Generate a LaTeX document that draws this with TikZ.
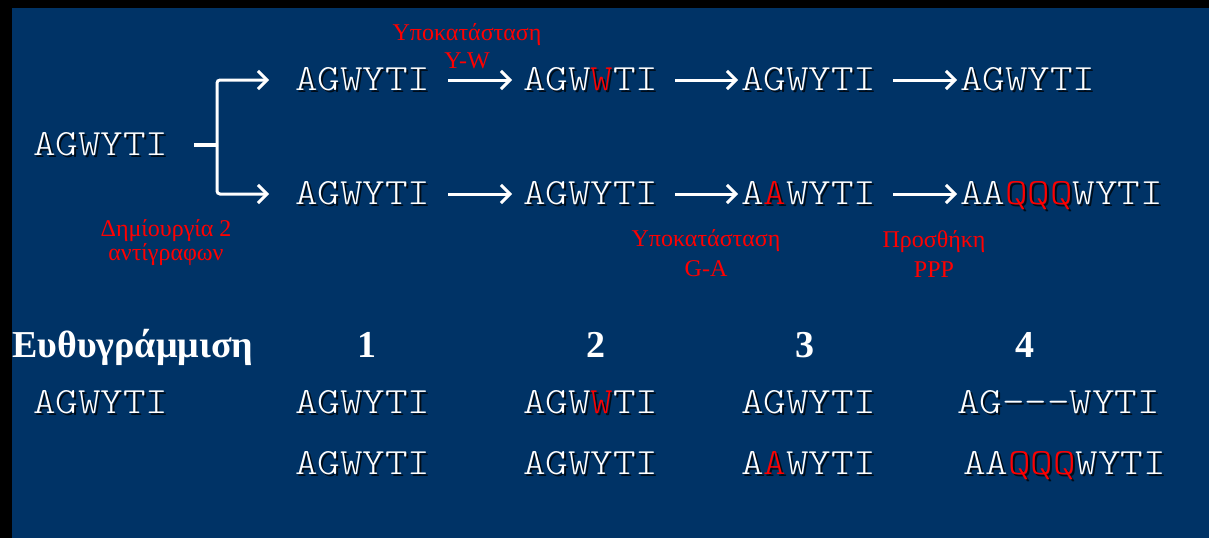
\documentclass[tikz,border=0pt]{standalone}
\usepackage{fontspec}
\setmainfont{Liberation Serif}
\newfontfamily\seqfont[FakeStretch=1.16]{Latin Modern Mono Light}
\usetikzlibrary{arrows.meta,calc}

\definecolor{slide}{RGB}{0,51,102}
\definecolor{mutred}{RGB}{255,0,0}
\colorlet{shadowc}{black}

% a changed residue inside a sequence
\newcommand\mut[1]{\textcolor{mutred}{#1}}
% sequence text with its drop shadow: name, x, baseline y, letters
\newcommand\seqat[4]{%
  \node[seqtext, text=shadowc, opacity=0.75] (#1-sh) at (#2+2,#3+2) {\colorlet{mutred}{shadowc}#4};
  \node[seqtext] (#1) at (#2,#3) {#4};}

\tikzset{
  seqtext/.style={anchor=base west, inner sep=0pt, outer sep=0pt,
    font=\seqfont\fontsize{37}{40}\selectfont, text=white,
    text height=20pt, text depth=0pt},
  note/.style={anchor=base, inner sep=0pt, align=center, text=mutred,
    font=\fontsize{24}{26}\selectfont},
  head/.style={anchor=base, inner sep=0pt, text=white,
    font=\bfseries\fontsize{38}{40}\selectfont},
  arr/.style={draw=white, line width=3pt,
    -{Straight Barb[length=9pt,width=18pt]}},
  wline/.style={draw=white, line width=3.5pt},
}

\begin{document}
\begin{tikzpicture}[x=1pt,y=-1pt]
  % slide background with its dark frame
  \fill[black] (0,0) rectangle (1209,538);
  \fill[slide] (12,8) rectangle (1209,538);
  \useasboundingbox (0,0) rectangle (1209,538);

  % original sequence and the two copies
  \seqat{o}{33}{155}{AGWYTI}
  \seqat{t1}{295}{90}{AGWYTI}
  \seqat{t2}{523}{90}{AGW\mut{W}TI}
  \seqat{t3}{741}{90}{AGWYTI}
  \seqat{t4}{960}{90}{AGWYTI}
  \seqat{b1}{295}{204}{AGWYTI}
  \seqat{b2}{523}{204}{AGWYTI}
  \seqat{b3}{741}{204}{A\mut{A}WYTI}
  \seqat{b4}{960}{204}{AA\mut{QQQ}WYTI}

  % fork into two copies
  \coordinate (fork) at (217,0);
  \draw[wline] ([xshift=26pt]o.east) -- (fork |- o.east);
  \draw[arr, rounded corners=3pt] (fork |- o.east) |- ([xshift=-26pt]t1.west);
  \draw[arr, rounded corners=3pt] (fork |- o.east) |- ([xshift=-26pt]b1.west);

  % evolution steps
  \draw[arr, shorten <=18pt, shorten >=11pt] (t1) -- (t2);
  \draw[arr, shorten <=17pt, shorten >=3pt] (t2) -- (t3);
  \draw[arr, shorten <=17pt, shorten >=3pt] (t3) -- (t4);
  \draw[arr, shorten <=18pt, shorten >=11pt] (b1) -- (b2);
  \draw[arr, shorten <=17pt, shorten >=3pt] (b2) -- (b3);
  \draw[arr, shorten <=17pt, shorten >=3pt] (b3) -- (b4);

  % event notes (placed by the baseline of their last line)
  \node[note] (n1) at (467,68) {Υποκατάσταση\\[2pt]Y-W};
  \node[note] (n2) at (166,260) {Δημίουργία 2\\[-2pt]αντίγραφων};
  \node[note] (n3) at (706,276) {Υποκατάσταση\\[4pt]G-A};
  \node[note] (n4) at (934,277) {Προσθήκη\\[4pt]PPP};

  % alignment header
  \node[head, anchor=base west] (h0) at (12,357) {Ευθυγράμμιση};
  \node[head] (h1) at (367,357) {1};
  \node[head] (h2) at (596,357) {2};
  \node[head] (h3) at (805,357) {3};
  \node[head] (h4) at (1025,357) {4};

  % alignments
  \seqat{a0}{33}{413}{AGWYTI}
  \seqat{a1}{295}{413}{AGWYTI}
  \seqat{a2}{523}{413}{AGW\mut{W}TI}
  \seqat{a3}{741}{413}{AGWYTI}
  \seqat{a4}{957}{413}{AG-\kern0pt-\kern0pt-WYTI}
  \seqat{c1}{295}{474}{AGWYTI}
  \seqat{c2}{523}{474}{AGWYTI}
  \seqat{c3}{741}{474}{A\mut{A}WYTI}
  \seqat{c4}{963}{474}{AA\mut{QQQ}WYTI}
\end{tikzpicture}
\end{document}
